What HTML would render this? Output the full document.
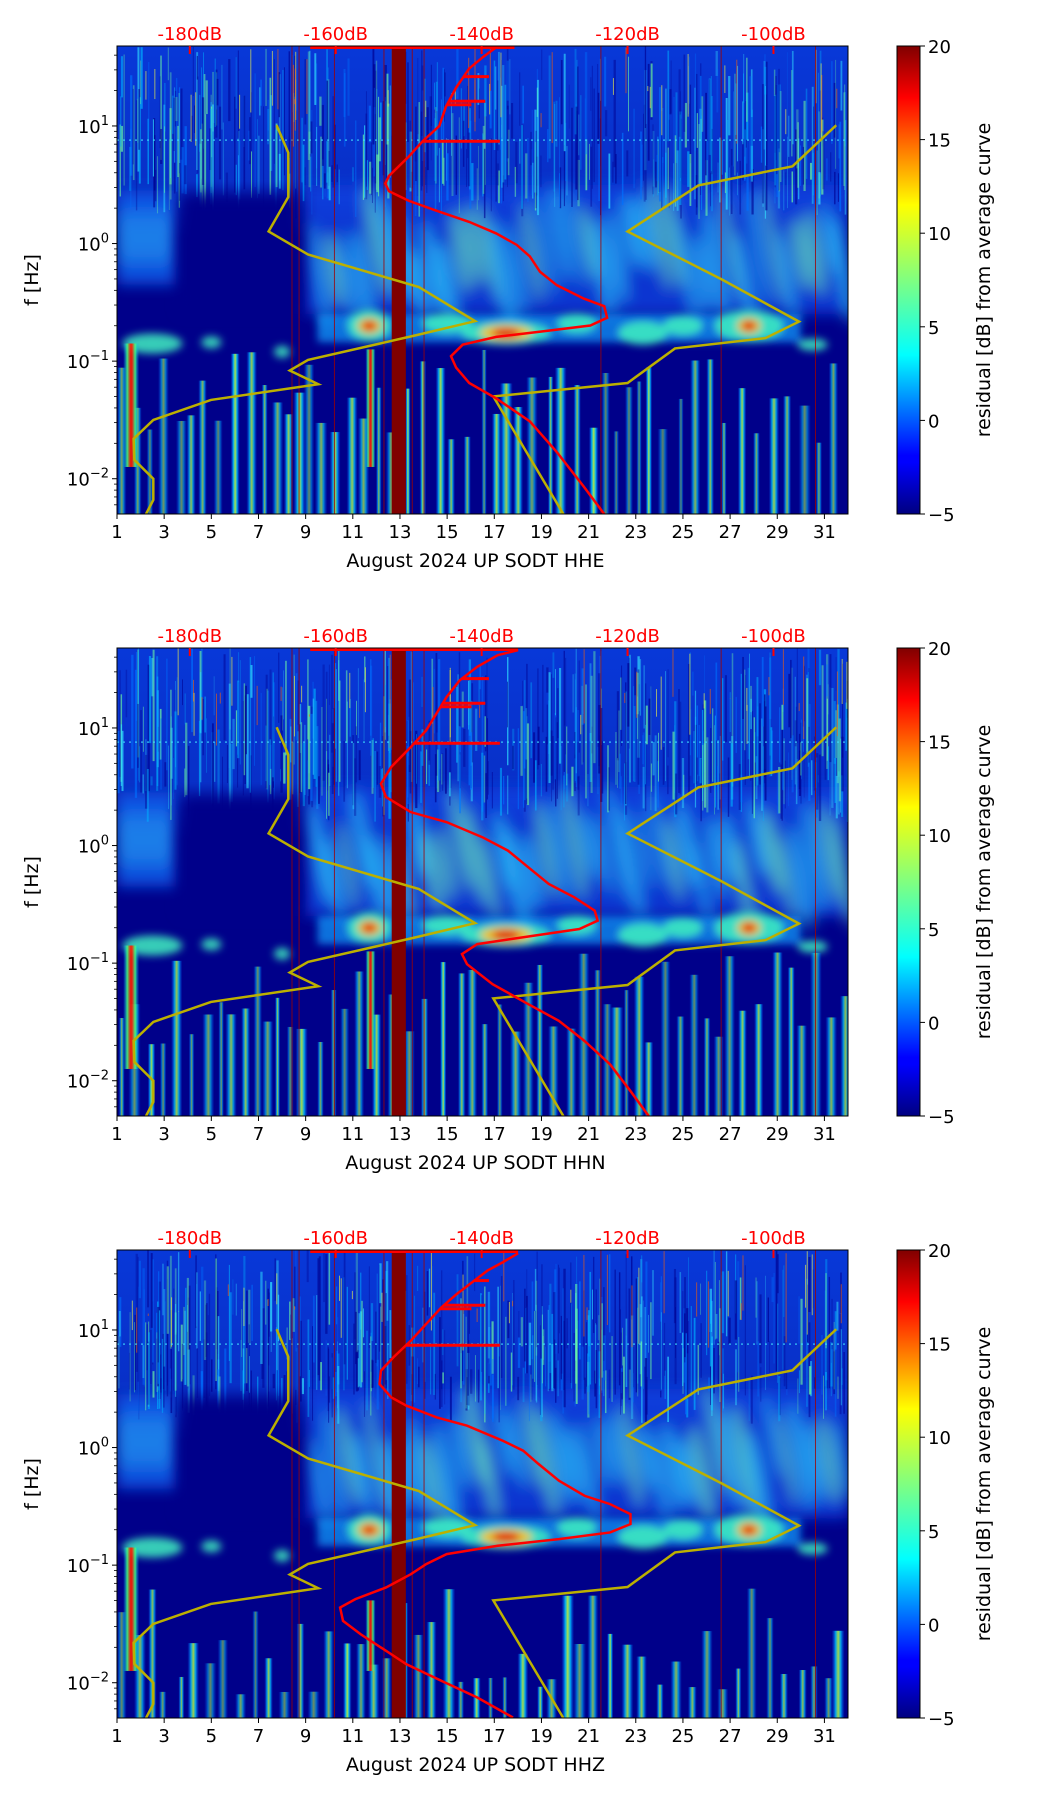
<!DOCTYPE html>
<html><head><meta charset="utf-8"><style>
body{margin:0;background:#fff}
svg text{font-family:"DejaVu Sans","Liberation Sans",sans-serif}
</style></head><body>
<svg id="fig" xmlns="http://www.w3.org/2000/svg" width="1052" height="1806" viewBox="0 0 1052 1806">
<defs>
<filter id="blur4" x="-50%" y="-50%" width="200%" height="200%"><feGaussianBlur stdDeviation="4"/></filter>
<filter id="blur8" x="-50%" y="-50%" width="200%" height="200%"><feGaussianBlur stdDeviation="7"/></filter>
<linearGradient id="stripeG" x1="0" x2="1" y1="0" y2="0">
<stop offset="0" stop-color="#0050ff" stop-opacity="0"/><stop offset="0.3" stop-color="#00c0ff"/><stop offset="0.5" stop-color="#c0ff40"/><stop offset="0.7" stop-color="#00c0ff"/><stop offset="1" stop-color="#0050ff" stop-opacity="0"/></linearGradient>
<linearGradient id="stripeR" x1="0" x2="1" y1="0" y2="0">
<stop offset="0" stop-color="#00a0ff" stop-opacity="0"/><stop offset="0.25" stop-color="#40ff80"/><stop offset="0.45" stop-color="#ff2000"/><stop offset="0.55" stop-color="#ff2000"/><stop offset="0.75" stop-color="#40ff80"/><stop offset="1" stop-color="#00a0ff" stop-opacity="0"/></linearGradient>
<linearGradient id="upperG" x1="0" x2="0" y1="0" y2="1">
<stop offset="0" stop-color="#0838d8"/><stop offset="0.7" stop-color="#0830c8"/><stop offset="1" stop-color="#0a2cb8" stop-opacity="0"/></linearGradient>
<linearGradient id="cbarG" x1="0" x2="0" y1="1" y2="0">
<stop offset="0" stop-color="#000080"/><stop offset="0.11" stop-color="#0000ff"/><stop offset="0.125" stop-color="#0000ff"/><stop offset="0.34" stop-color="#00ffff"/><stop offset="0.5" stop-color="#80ff80"/><stop offset="0.66" stop-color="#ffff00"/><stop offset="0.89" stop-color="#ff0000"/><stop offset="1" stop-color="#800000"/></linearGradient>
</defs>
</svg>
<script>
// ---- data ----
const panelComps = ["HHE","HHN","HHZ"];
const xTickDays = [1,3,5,7,9,11,13,15,17,19,21,23,25,27,29,31];
const dbTicks = [-180,-160,-140,-120,-100];
const cbarTicks = [20,15,10,5,0,-5];
const yDecades = [1,0,-1,-2];
const lowModelDb = [-168.1,-166.5,-166.5,-169.2,-163.8,-148.6,-140.9,-149,-163.8,-166.3,-162.4,-177.1,-185,-187.7,-187.6,-185,-185,-186];
const lowModelLf = [1.006,0.772,0.396,0.103,-0.093,-0.37,-0.66,-0.78,-0.99,-1.08,-1.196,-1.33,-1.5,-1.66,-1.84,-2.0,-2.18,-2.3];
const highModelDb = [-91.4,-97.4,-110.3,-120,-107.1,-96.5,-101.1,-113.5,-120,-138.4,-128.8];
const highModelLf = [1.006,0.657,0.494,0.103,-0.305,-0.664,-0.804,-0.892,-1.186,-1.30,-2.30];
const redDbHHE = [-135.5,-138.0,-139.8,-141.7,-143.5,-144.9,-145.8,-148.1,-150.0,-152.7,-153.2,-152.7,-150.0,-146.3,-141.7,-138.0,-135.2,-133.4,-132.0,-129.7,-126.0,-123.2,-122.8,-125.1,-131.5,-138.0,-142.6,-144.2,-143.5,-141.7,-138.0,-133.4,-129.7,-126.0,-123.2];
const redLfHHE = [1.69,1.669,1.587,1.489,1.326,1.163,1.0,0.869,0.739,0.576,0.511,0.445,0.364,0.282,0.184,0.086,-0.011,-0.109,-0.240,-0.354,-0.468,-0.533,-0.631,-0.697,-0.746,-0.794,-0.860,-0.958,-1.055,-1.186,-1.317,-1.512,-1.773,-2.067,-2.30];
const redDbHHN = [-135.0,-137.8,-140.6,-143.0,-144.8,-146.2,-147.6,-149.7,-152.4,-153.8,-153.1,-149.7,-144.8,-139.9,-136.4,-133.6,-130.8,-127.3,-124.5,-124.1,-126.6,-132.9,-140.6,-142.7,-142.0,-138.5,-133.6,-129.4,-125.9,-122.4,-119.6,-117.1];
const redLfHHN = [1.662,1.619,1.520,1.406,1.264,1.122,0.980,0.838,0.668,0.526,0.412,0.284,0.199,0.071,-0.043,-0.185,-0.327,-0.440,-0.554,-0.639,-0.710,-0.767,-0.838,-0.923,-1.009,-1.179,-1.349,-1.491,-1.662,-1.861,-2.088,-2.300];
const redDbHHZ = [-135.0,-137.1,-139.2,-141.3,-143.4,-145.5,-147.6,-149.7,-152.1,-153.8,-154.0,-152.4,-150.3,-146.2,-142.0,-137.1,-134.3,-132.2,-129.4,-125.9,-122.4,-119.6,-119.6,-122.4,-129.4,-137.8,-144.8,-147.6,-149.7,-153.1,-157.3,-159.4,-159.0,-156.6,-153.1,-150.3,-145.5,-140.6,-135.7];
const redLfHHZ = [1.652,1.576,1.505,1.406,1.306,1.193,1.051,0.909,0.767,0.654,0.540,0.427,0.356,0.257,0.186,0.058,-0.027,-0.140,-0.282,-0.410,-0.481,-0.566,-0.651,-0.722,-0.779,-0.835,-0.906,-0.991,-1.077,-1.190,-1.289,-1.360,-1.474,-1.587,-1.729,-1.843,-1.984,-2.126,-2.296];
const redDb = [redDbHHE, redDbHHN, redDbHHZ];
const redLf = [redLfHHE, redLfHHN, redLfHHZ];
const spikeDbEnd = [-139,-139.5,-141.4,-137.5];
const spikeLf = [1.42,1.21,1.18,0.87];
const hotDays = [11.7,17.5,27.8];
const hotLf = [-0.7,-0.76,-0.7];
const gapLineDays = [8.4,8.7,10.2,12.3,13.5,14.0,21.5,26.6,30.6];

const svg = document.getElementById('fig');
const NS = 'http://www.w3.org/2000/svg';
function mk(tag, attrs, parent){const e=document.createElementNS(NS,tag);for(const k in attrs)e.setAttribute(k,attrs[k]);(parent||svg).appendChild(e);return e;}
let seed=12345;function rnd(){seed=(seed*1103515245+12345)%2147483648;return seed/2147483648;}

const L=117,W=731,H=468,LFMAX=1.68,LFMIN=-2.3;
const tops=[46,648,1250];

tops.forEach((T,p)=>{
  const X=d=>L+(d-1)/31*W;
  const Y=lf=>T+(LFMAX-lf)/(LFMAX-LFMIN)*H;
  const XD=db=>189.8+(db+180)*7.296;
  const g=mk('g',{});
  
  
  const cp=mk('clipPath',{id:'clip'+p},g);mk('rect',{x:L,y:T,width:W,height:H},cp);
  const spec=mk('g',{'clip-path':'url(#clip'+p+')'},g);
  
  
  mk('rect',{x:L,y:T,width:W,height:H,fill:'#00008a'},spec);
  mk('rect',{x:L,y:T,width:W,height:Y(0.05)-T,fill:'url(#upperG)'},spec);
  // mid diffuse region
  const mid=mk('g',{filter:'url(#blur8)'},spec);
  mk('rect',{x:X(9),y:Y(0.5),width:X(32)-X(9),height:Y(-0.6)-Y(0.5),fill:'#1048e8',opacity:0.75},mid);
  mk('rect',{x:X(1),y:Y(0.45),width:X(3.5)-X(1),height:Y(-0.35)-Y(0.45),fill:'#1060f0',opacity:0.8},mid);
  seed=99+p;
  for(let d=9.3;d<31.8;d+=0.6){
    const c=0.1-rnd()*0.45;
    mk('ellipse',{cx:X(d+0.3),cy:Y(c),rx:4+rnd()*5,ry:35+rnd()*25,fill:rnd()<0.5?'#30d8ff':'#70f8c0',opacity:0.55,transform:'rotate(-10 '+X(d+0.3)+' '+Y(c)+')'},mid);
  }
  for(let d=1.2;d<3.5;d+=0.6){
    mk('ellipse',{cx:X(d),cy:Y(0.05),rx:5,ry:30,fill:'#30d0ff',opacity:0.5},mid);
  }
  // upper texture
  seed=777+p;
  for(let i=0;i<520;i++){
    const d=1+rnd()*31, w=0.6+rnd()*1.8, a=LFMAX-rnd()*1.1, b=a-0.2-rnd()*1.0;
    const cols=['#00b0ff','#30e0ff','#70ffa0','#0070ff','#000090','#000090'];
    const c=cols[Math.floor(rnd()*cols.length)];
    const e=Math.max(b,0.2+rnd()*0.35);
    if(e<a) mk('rect',{x:X(d),y:Y(a),width:w,height:Y(e)-Y(a),fill:c,opacity:0.3+rnd()*0.4},spec);
  }
  for(let i=0;i<40;i++){
    const d=1+rnd()*31, a=LFMAX-rnd()*0.6;
    mk('rect',{x:X(d),y:Y(a),width:1,height:Y(0.8+rnd()*0.5)-Y(a),fill:rnd()<0.5?'#ffff40':'#ff6000',opacity:0.6},spec);
  }
  // dark quiet area days 4-8.6
  const dk=mk('g',{filter:'url(#blur8)'},spec);
  mk('rect',{x:X(3.7),y:Y(0.42),width:X(8.7)-X(3.7),height:Y(-0.58)-Y(0.42),fill:'#00008a'},dk);
  mk('line',{x1:L,x2:L+W,y1:Y(0.88),y2:Y(0.88),stroke:'#40e0ff','stroke-dasharray':'2 4','stroke-width':1.5,opacity:0.7},spec);
  // band blobs
  const band=mk('g',{filter:'url(#blur4)'},spec);
  mk('rect',{x:X(9.5),y:Y(-0.6),width:X(30)-X(9.5),height:Y(-0.84)-Y(-0.6),fill:'#10a0ff',opacity:0.7},band);
  [[11.7,-0.7,22,16],[15,-0.68,25,10],[17.5,-0.76,45,12],[20.5,-0.68,20,10],[23.3,-0.76,25,12],[25,-0.7,20,10],[27.8,-0.7,35,16],[2.5,-0.85,30,10],[5,-0.84,10,6],[8,-0.92,8,6],[30.5,-0.86,15,6]].forEach(b=>{
    mk('ellipse',{cx:X(b[0]),cy:Y(b[1]),rx:b[2],ry:b[3],fill:'#40f0c0',opacity:0.85},band);
  });
  hotDays.forEach((d,i)=>{
    mk('ellipse',{cx:X(d),cy:Y(hotLf[i]),rx:i==1?26:12,ry:8,fill:'#ffc000',opacity:0.9},band);
    const e=mk('ellipse',{cx:X(d),cy:Y(hotLf[i]),rx:i==1?14:7,ry:5,fill:'#e00000'},band);
    
    
  });
  // low-frequency stripes
  seed=555+p;
  for(let d=1.2;d<31.9;d+=0.4+rnd()*0.4){
    const lfTop=(p==2?-1.2:-0.9)-rnd()*(p==2?0.9:0.8);
    const w=5+rnd()*8;
    mk('rect',{x:X(d)-w/2,y:Y(lfTop),width:w,height:T+H-Y(lfTop),fill:'url(#stripeG)',opacity:0.5+rnd()*0.4},spec);
  }
  [[1.6,-0.85,16],[11.75,-0.9,10]].forEach(s=>{
    const top=p==2&&s[0]>10?-1.3:s[1];
    mk('rect',{x:X(s[0])-s[2]/2,y:Y(top),width:s[2],height:Y(-1.9)-Y(top),fill:'url(#stripeR)',opacity:0.9},spec);
  });
  gapLineDays.forEach(d=>mk('rect',{x:X(d),y:T,width:1,height:H,fill:'#a00000',opacity:0.8},spec));
  const col=mk('rect',{x:X(12.65),y:T,width:X(13.25)-X(12.65),height:H,fill:'#800000'},spec);
  
  
  const lm=mk('polyline',{points:lowModelDb.map((v,i)=>XD(v)+','+Y(lowModelLf[i])).join(' '),fill:'none',stroke:'#bcb000','stroke-width':2.5},spec);
  
  
  const hm=mk('polyline',{points:highModelDb.map((v,i)=>XD(v)+','+Y(highModelLf[i])).join(' '),fill:'none',stroke:'#bcb000','stroke-width':2.5},spec);
  
  
  const rd=redDb[p], rl=redLf[p];
  mk('line',{x1:XD(-163.5),x2:XD(rd[0]),y1:T+1.5,y2:T+1.5,stroke:'#ff0000','stroke-width':3},spec);
  const rc=mk('polyline',{points:rd.map((v,i)=>XD(v)+','+Y(rl[i])).join(' '),fill:'none',stroke:'#ff0000','stroke-width':2.5},spec);
  
  
  spikeDbEnd.forEach((v,i)=>{
    let base=rd[0];
    for(let k=0;k<rl.length-1;k++){if(rl[k]>=spikeLf[i]&&rl[k+1]<=spikeLf[i]){const t=(rl[k]-spikeLf[i])/(rl[k]-rl[k+1]);base=rd[k]+t*(rd[k+1]-rd[k]);break;}}
    mk('line',{x1:XD(base),x2:XD(v),y1:Y(spikeLf[i]),y2:Y(spikeLf[i]),stroke:'#ff0000','stroke-width':3},spec);
  });
  mk('rect',{x:L,y:T,width:W,height:H,fill:'none',stroke:'#000','stroke-width':1},g);
  xTickDays.forEach(d=>{
    mk('line',{x1:X(d),x2:X(d),y1:T+H,y2:T+H+5,stroke:'#000'},g);
    const t=mk('text',{x:X(d),y:T+H+24,'font-size':18,'text-anchor':'middle'},g);t.textContent=d;
    
    
  });
  const xl=mk('text',{x:X(16.2),y:T+H+53,'font-size':19,'text-anchor':'middle'},g);
  xl.textContent='August 2024 UP SODT  '+panelComps[p];
  
  
  yDecades.forEach(dc=>{
    mk('line',{x1:L-5,x2:L,y1:Y(dc),y2:Y(dc),stroke:'#000'},g);
    const t=mk('text',{x:L-8,y:Y(dc)+7,'font-size':18,'text-anchor':'end'},g);
    
    
    const a=document.createElementNS(NS,'tspan');a.textContent='10';t.appendChild(a);
    const b=document.createElementNS(NS,'tspan');b.setAttribute('dy','-8');b.setAttribute('font-size','13');b.textContent=dc<0?'\u2212'+(-dc):String(dc);t.appendChild(b);
  });
  for(let dc=-3;dc<=1;dc++)for(let m=2;m<=9;m++){const lf=dc+Math.log10(m);if(lf>LFMIN&&lf<LFMAX)mk('line',{x1:L-3,x2:L,y1:Y(lf),y2:Y(lf),stroke:'#000','stroke-width':0.8},g);}
  const yl=mk('text',{x:0,y:0,'font-size':19,'text-anchor':'middle',transform:'translate(38 '+(T+H/2)+') rotate(-90)'},g);
  yl.textContent='f [Hz]';
  
  
  dbTicks.forEach(db=>{
    mk('line',{x1:XD(db),x2:XD(db),y1:T,y2:T+8,stroke:'#ff0000','stroke-width':2},g);
    const t=mk('text',{x:XD(db),y:T-6,'font-size':18,'text-anchor':'middle',fill:'#ff0000'},g);t.textContent=db+'dB';
    
    
  });
  const cb=mk('rect',{x:897,y:T,width:23,height:H,fill:'url(#cbarG)',stroke:'#000','stroke-width':1},g);
  
  
  cbarTicks.forEach(v=>{
    const yy=T+(20-v)/25*H;
    mk('line',{x1:920,x2:925,y1:yy,y2:yy,stroke:'#000'},g);
    const t=mk('text',{x:928,y:yy+7,'font-size':18},g);t.textContent=v<0?'\u2212'+(-v):v;
    
    
  });
  const cl=mk('text',{x:0,y:0,'font-size':19,'text-anchor':'middle',transform:'translate(990 '+(T+H/2)+') rotate(-90)'},g);
  cl.textContent='residual [dB] from average curve';
  
  
});
</script>
</body></html>
